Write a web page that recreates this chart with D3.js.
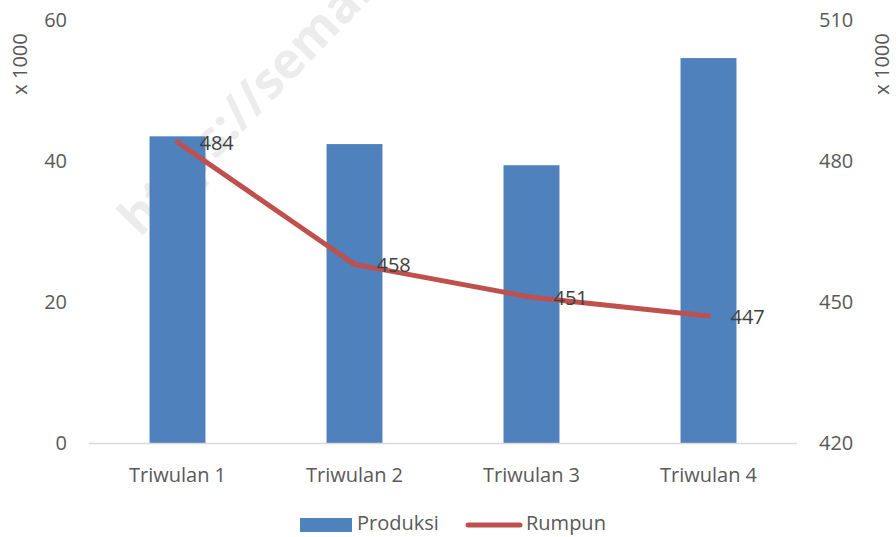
<!DOCTYPE html>
<html>
<head>
<meta charset="utf-8">
<script src="https://cdn.jsdelivr.net/npm/d3@7"></script>
<style>
  body { margin: 0; background: #fff; }
  svg text { font-family: "Open Sans", "Liberation Sans", sans-serif; fill: #595959; }
</style>
</head>
<body>
<svg width="896" height="537"></svg>
<script>
var categories = ["Triwulan 1", "Triwulan 2", "Triwulan 3", "Triwulan 4"];
var produksi = [43.5, 42.4, 39.4, 54.6];   // x 1000
var rumpun = [484, 458, 451, 447];          // x 1000
var leftTicks = [0, 20, 40, 60];
var rightTicks = [420, 450, 480, 510];

var svg = d3.select("svg");
var margin = {top: 20, right: 99, bottom: 94, left: 89};
var width = 896 - margin.left - margin.right;
var height = 537 - margin.top - margin.bottom;
var fs = "20px";

// watermark
svg.append("text")
    .attr("transform", "translate(140,238) rotate(-46)")
    .style("font-size", "50px")
    .style("font-weight", "bold")
    .style("fill", "#ececec")
    .text("https://semarangkota.bps.go.id");

var g = svg.append("g")
    .attr("transform", "translate(" + margin.left + "," + margin.top + ")");

var x = d3.scaleBand().domain(categories).range([0, width]).paddingInner(0.684).paddingOuter(0.342);
var yL = d3.scaleLinear().domain([0, 60]).range([height, 0]);
var yR = d3.scaleLinear().domain([420, 510]).range([height, 0]);

// left ticks
g.selectAll(".lt").data(leftTicks).enter().append("text")
    .attr("x", -22).attr("y", function(d) { return yL(d); })
    .attr("dy", "0.35em").style("text-anchor", "end").style("font-size", fs)
    .text(function(d) { return d; });

// right ticks
g.selectAll(".rt").data(rightTicks).enter().append("text")
    .attr("x", width + 22).attr("y", function(d) { return yR(d); })
    .attr("dy", "0.35em").style("text-anchor", "start").style("font-size", fs)
    .text(function(d) { return d; });

// axis titles
svg.append("text")
    .attr("transform", "translate(27,64) rotate(-90)")
    .style("text-anchor", "middle").style("font-size", fs)
    .text("x 1000");
svg.append("text")
    .attr("transform", "translate(889,64) rotate(-90)")
    .style("text-anchor", "middle").style("font-size", fs)
    .text("x 1000");

// bars
g.selectAll(".bar").data(produksi).enter().append("rect")
    .attr("x", function(d, i) { return x(categories[i]); })
    .attr("width", x.bandwidth())
    .attr("y", function(d) { return yL(d); })
    .attr("height", function(d) { return height - yL(d); })
    .style("fill", "#4f81bd");

// baseline
g.append("line")
    .attr("x1", 0).attr("x2", width)
    .attr("y1", height + 0.5).attr("y2", height + 0.5)
    .style("stroke", "#d9d9d9").style("stroke-width", 1.5);

// category labels
g.selectAll(".cat").data(categories).enter().append("text")
    .attr("x", function(d) { return x(d) + x.bandwidth() / 2; })
    .attr("y", height + 32)
    .attr("dy", "0.35em").style("text-anchor", "middle").style("font-size", fs)
    .text(function(d) { return d; });

// line
var line = d3.line()
    .x(function(d, i) { return x(categories[i]) + x.bandwidth() / 2; })
    .y(function(d) { return yR(d); });
g.append("path").datum(rumpun)
    .attr("d", line)
    .style("fill", "none").style("stroke", "#c0504d")
    .style("stroke-width", 5).style("stroke-linecap", "round").style("stroke-linejoin", "round");

// data labels
g.selectAll(".lbl").data(rumpun).enter().append("text")
    .attr("x", function(d, i) { return x(categories[i]) + x.bandwidth() / 2 + 22; })
    .attr("y", function(d) { return yR(d) + 1; })
    .attr("dy", "0.35em").style("font-size", fs).style("fill", "#404040")
    .text(function(d) { return d; });

// legend
var legend = svg.append("g");
legend.append("rect").attr("x", 300).attr("y", 518).attr("width", 52).attr("height", 14).style("fill", "#4f81bd");
legend.append("text").attr("x", 357).attr("y", 523).attr("dy", "0.35em").style("font-size", fs).text("Produksi");
legend.append("line").attr("x1", 468).attr("x2", 520).attr("y1", 525).attr("y2", 525)
    .style("stroke", "#c0504d").style("stroke-width", 5).style("stroke-linecap", "round");
legend.append("text").attr("x", 526).attr("y", 523).attr("dy", "0.35em").style("font-size", fs).text("Rumpun");
</script>
</body>
</html>
